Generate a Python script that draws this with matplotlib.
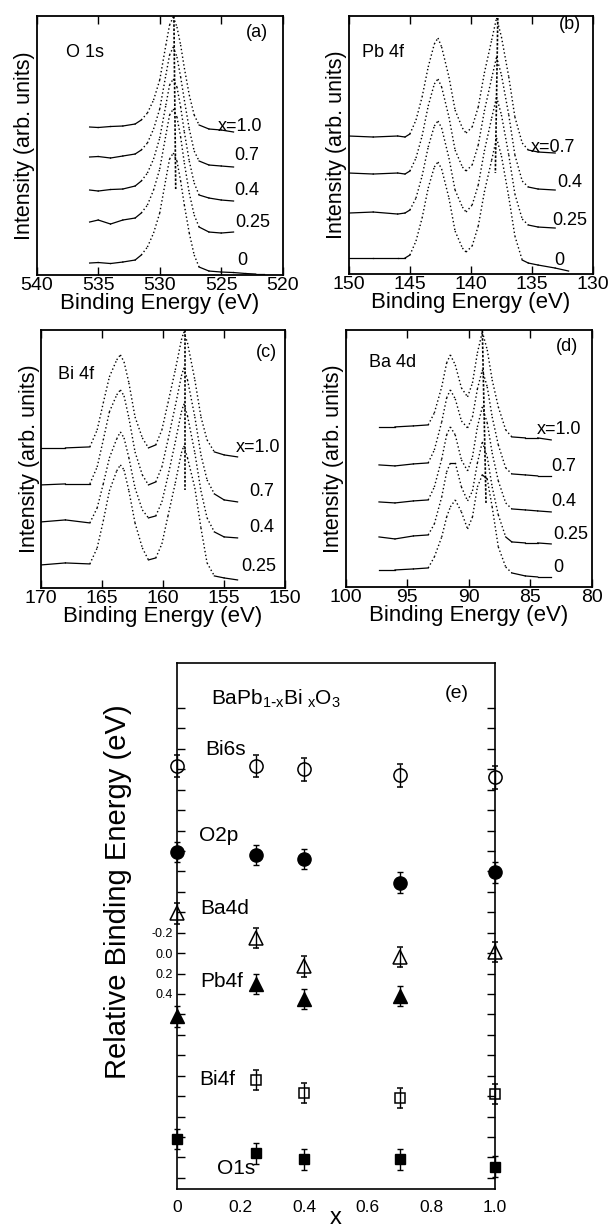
import numpy as np
import matplotlib
matplotlib.use("Agg")
import matplotlib.pyplot as plt
from matplotlib.ticker import FixedLocator, FuncFormatter

plt.rcParams.update({"font.family": ["Liberation Sans", "DejaVu Sans"],
                     "mathtext.default": "regular",
                     "axes.unicode_minus": False})

# ---------------- (a) O 1s spectra (arb. units) ----------------
o1s_E = [535.7, 535, 534, 533, 532, 531.5, 531, 530.5, 530, 529.5, 529.2,
         528.9, 528.6, 528.3, 528, 527.6, 527.2, 526.8, 526, 525, 524]
o1s_E0 = o1s_E + [523, 522.2, 521.5]
o1s_x10 = [148, 147.5, 148.5, 149, 151, 155, 162, 175, 195, 230, 250, 258, 248, 230, 207, 180, 160, 150, 146, 145, 143]
o1s_x07 = [118, 118.5, 117, 119, 121, 125, 132, 146, 166, 200, 220, 228, 218, 198, 175, 146, 124, 114, 110, 109, 108]
o1s_x04 = [85, 84, 85.5, 86, 89, 94, 102, 116, 137, 170, 190, 196, 188, 168, 143, 114, 92, 80, 77, 75, 74]
o1s_x025 = [53, 55, 51, 55, 57, 62, 70, 85, 106, 140, 160, 166, 158, 138, 112, 82, 60, 48, 43, 42, 43]
o1s_x0 = [12, 12.5, 11.5, 13, 15, 20, 28, 42, 62, 96, 116, 122, 114, 94, 70, 42, 20, 8, 4, 3, 2.5, 1.5, 1, 1]

# ---------------- (b) Pb 4f ----------------
pb_E = [150, 148, 146, 145.4, 145, 144.5, 144, 143.5, 143, 142.7, 142.4, 141.8, 141.3, 140.7,
        140.4, 139.9, 139.4, 138.9, 138.3, 137.9, 137.5, 136.9, 136.4, 135.8, 135.3, 134.5, 133.1]
pb_E0 = pb_E + [132.0]
pb_x07 = [138, 137, 138, 137, 140, 154, 177, 207, 230, 236, 227, 197, 164, 146, 141, 147, 167, 201, 234, 256, 237, 197, 157, 131, 124, 122, 121]
pb_x04 = [101, 100, 101, 100, 103, 116, 138, 168, 190, 195, 187, 157, 124, 107, 103, 109, 129, 163, 196, 217, 199, 159, 119, 93, 87, 85, 84]
pb_x025 = [61, 62, 60, 61, 64, 76, 98, 127, 148, 153, 146, 116, 84, 67, 62, 69, 89, 123, 156, 177, 159, 119, 80, 55, 49, 47, 46]
pb_x0 = [16, 16, 16, 16, 19, 33, 56, 86, 107, 112, 105, 76, 43, 26, 22, 28, 48, 82, 114, 136, 118, 77, 38, 14, 11, 9, 6, 3]

# ---------------- (c) Bi 4f ----------------
bi_E = [170, 168, 166, 165.4, 164.9, 164.4, 163.8, 163.5, 163.2, 162.8, 162.3, 161.7, 161.2,
        160.6, 160.1, 159.6, 159.0, 158.5, 158.3, 158.0, 157.4, 156.9, 156.4, 155.8, 155.0, 153.9]
bi_x10 = [140, 140, 141, 158, 185, 211, 228, 233, 226, 205, 171, 150, 140, 143, 158, 185, 218, 248, 256, 245, 208, 171, 148, 136, 133, 131]
bi_x07 = [103, 104, 104, 121, 148, 176, 193, 198, 192, 170, 136, 113, 103, 106, 121, 148, 182, 212, 220, 208, 171, 133, 108, 94, 88, 86]
bi_x04 = [66, 68, 65, 80, 104, 130, 149, 156, 150, 130, 100, 78, 70, 72, 86, 112, 146, 176, 184, 172, 135, 97, 70, 56, 51, 50]
bi_x025 = [23, 25, 24, 40, 67, 97, 117, 123, 118, 97, 65, 40, 28, 30, 44, 72, 105, 135, 142, 130, 100, 60, 25, 12, 10, 8]

# ---------------- (d) Ba 4d ----------------
ba_E = [97.3, 96, 94.5, 93.3, 92.8, 92.2, 91.8, 91.5, 91.1, 90.6, 90.1, 89.7, 89.3, 88.9,
        88.5, 88.1, 87.6, 87.0, 86.5, 85.4, 84.4, 83.3]
ba_x10 = [160, 160, 161, 162, 174, 200, 224, 232, 222, 199, 190, 204, 234, 255, 237, 207, 180, 157, 150, 149, 149, 147]
ba_x07 = [122, 121, 123, 124, 137, 165, 189, 197, 188, 166, 159, 170, 198, 217, 200, 170, 142, 119, 113, 112, 111, 111]
ba_x04 = [85, 84, 86, 87, 100, 128, 152, 160, 152, 127, 116, 130, 160, 180, 164, 134, 106, 84, 78, 77, 76, 75]
ba_x025 = [50, 48, 51, 52, 63, 90, 115, 124, 124, 100, 86, 96, 124, 145, 130, 100, 72, 50, 45, 44, 44, 43]
ba_x0 = [17, 17, 18, 19, 30, 50, 70, 80, 87, 75, 58, 70, 100, 112, 108, 80, 40, 20, 14, 11, 10, 10]

# peak guide lines: energy (top, bottom), intensity (top, bottom)
guide_E = [(528.85, 528.7), (137.8, 138.0), (158.2, 158.2), (88.9, 88.6)]
guide_I = [(259, 86), (256, 101), (258, 98), (257, 84)]

# ---------------- (e) relative binding energies ----------------
x_all = [0, 0.25, 0.4, 0.7, 1.0]
bi6s = [-1.83, -1.83, -1.80, -1.74, -1.72]
o2p = [-0.99, -0.96, -0.92, -0.69, -0.79]
ba4d = [-0.39, -0.15, 0.13, 0.04, -0.01]
x_pb = [0, 0.25, 0.4, 0.7]
pb4f = [0.62, 0.30, 0.45, 0.42]
x_bi = [0.25, 0.4, 0.7, 1.0]
bi4f = [1.24, 1.37, 1.42, 1.38]
o1s = [1.82, 1.96, 2.02, 2.02, 2.09]
err_bi6s = 0.11
err_other = 0.10


def draw_spectrum(ax, E, I):
    # steep parts look like loose dots in the scan, flat parts like a solid line
    E = np.asarray(E, float)
    I = np.asarray(I, float)
    for i in range(len(E) - 1):
        slope = abs((I[i + 1] - I[i]) / (E[i + 1] - E[i]))
        if slope > 10:
            ax.plot(E[i:i + 2], I[i:i + 2], color="k", lw=1.0, ls=(0, (1, 1.8)))
        else:
            ax.plot(E[i:i + 2], I[i:i + 2], color="k", lw=0.9)


def spec_axes(rect, xlim, xticks, ylim_top):
    ax = fig.add_axes(rect)
    ax.set_xlim(*xlim)
    ax.set_ylim(0, ylim_top)
    ax.set_xticks(xticks)
    ax.set_yticks([])
    ax.tick_params(axis="x", direction="in", top=True, length=6, width=1,
                   labelsize=14, pad=1.5)
    for s in ax.spines.values():
        s.set_linewidth(1.3)
    ax.set_xlabel("Binding Energy (eV)", fontsize=16, labelpad=-1)
    ax.set_ylabel("Intensity (arb. units)", fontsize=15.5, labelpad=1)
    return ax


fig = plt.figure(figsize=(6.12, 12.3), dpi=100)

panels = [
    dict(rect=[0.060, 0.7764, 0.402, 0.2106], xlim=(540, 520), ticks=[540, 535, 530, 525, 520], top=259,
         curves=[(o1s_E, o1s_x10), (o1s_E, o1s_x07), (o1s_E, o1s_x04), (o1s_E, o1s_x025), (o1s_E0, o1s_x0)],
         labels=[("x=1.0", 523.5, 149), ("0.7", 522.9, 120), ("0.4", 522.9, 85), ("0.25", 522.4, 53), ("0", 523.3, 15)],
         name=("O 1s", 537.6, 222), tag=("(a)", 522.1, 242)),
    dict(rect=[0.570, 0.7772, 0.399, 0.2098], xlim=(150, 130), ticks=[150, 145, 140, 135, 130], top=258,
         curves=[(pb_E, pb_x07), (pb_E, pb_x04), (pb_E, pb_x025), (pb_E0, pb_x0)],
         labels=[("x=0.7", 133.3, 127), ("0.4", 131.9, 92), ("0.25", 131.9, 54), ("0", 132.8, 14)],
         name=("Pb 4f", 148.9, 221), tag=("(b)", 131.9, 249)),
    dict(rect=[0.067, 0.5220, 0.399, 0.2098], xlim=(170, 150), ticks=[170, 165, 160, 155, 150], top=258,
         curves=[(bi_E, bi_x10), (bi_E, bi_x07), (bi_E, bi_x04), (bi_E, bi_x025)],
         labels=[("x=1.0", 152.2, 140), ("0.7", 151.9, 96), ("0.4", 151.9, 60), ("0.25", 152.2, 21)],
         name=("Bi 4f", 168.6, 213), tag=("(c)", 151.5, 235)),
    dict(rect=[0.565, 0.5228, 0.402, 0.2090], xlim=(100, 80), ticks=[100, 95, 90, 85, 80], top=257,
         curves=[(ba_E, ba_x10), (ba_E, ba_x07), (ba_E, ba_x04), (ba_E, ba_x025), (ba_E, ba_x0)],
         labels=[("x=1.0", 82.66, 157), ("0.7", 82.25, 120), ("0.4", 82.25, 85), ("0.25", 81.7, 52), ("0", 82.7, 19)],
         name=("Ba 4d", 98.1, 224), tag=("(d)", 82.0, 240)),
]

for k, p in enumerate(panels):
    ax = spec_axes(p["rect"], p["xlim"], p["ticks"], p["top"])
    for E, I in p["curves"]:
        draw_spectrum(ax, E, I)
    ax.plot(guide_E[k], guide_I[k], color="k", lw=1.2, ls=(0, (1.5, 1)))
    for txt, ex, iy in p["labels"]:
        ax.text(ex, iy, txt, fontsize=13, ha="center", va="center")
    ax.text(p["name"][1], p["name"][2], p["name"][0], fontsize=13, ha="left", va="center")
    ax.text(p["tag"][1], p["tag"][2], p["tag"][0], fontsize=13, ha="center", va="center")

# ---------------- panel (e) ----------------
ax = fig.add_axes([0.289, 0.0333, 0.520, 0.4276])
ax.set_xlim(0, 1.0)
ax.set_ylim(2.31, -2.84)

common = dict(color="k", capsize=2.5, elinewidth=1, capthick=1, ls="none", clip_on=False)
ax.errorbar(x_all, bi6s, yerr=err_bi6s, marker="o", ms=9.5, mfc="none", mec="k", mew=1.1, **common)
ax.errorbar(x_all, o2p, yerr=err_other, marker="o", ms=9.5, mfc="k", mec="k", **common)
ax.errorbar(x_all, ba4d, yerr=err_other, marker="^", ms=9.5, mfc="none", mec="k", mew=1.1, **common)
ax.errorbar(x_pb, pb4f, yerr=err_other, marker="^", ms=9.5, mfc="k", mec="k", **common)
ax.errorbar(x_bi, bi4f, yerr=err_other, marker="s", ms=6.5, mfc="none", mec="k", mew=1.1, **common)
ax.errorbar(x_all, o1s, yerr=err_other, marker="s", ms=7.5, mfc="k", mec="k", **common)

for txt, tx, ty in [("Bi6s", 0.154, -1.99), ("O2p", 0.132, -1.15), ("Ba4d", 0.151, -0.44),
                    ("Pb4f", 0.142, 0.28), ("Bi4f", 0.126, 1.24), ("O1s", 0.186, 2.11)]:
    ax.text(tx, ty, txt, fontsize=15, ha="center", va="center")
ax.text(0.312, -2.49, r"BaPb$_{1\text{-}x}$Bi$_{\ x}$O$_{3}$", fontsize=15, ha="center", va="center")
ax.text(0.88, -2.54, "(e)", fontsize=14, ha="center", va="center")

ax.xaxis.set_major_locator(FixedLocator([0, 0.2, 0.4, 0.6, 0.8, 1.0]))
ax.xaxis.set_major_formatter(FuncFormatter(lambda v, pos: "0" if abs(v) < 1e-9 else f"{v:.1f}"))
ax.tick_params(axis="x", length=0, labelsize=12.5, pad=8)
ax.yaxis.set_major_locator(FixedLocator(np.round(np.arange(-2.4, 2.21, 0.2), 1)))
ax.yaxis.set_major_formatter(FuncFormatter(
    lambda v, pos: f"{abs(v) if abs(v) < 1e-9 else v:.1f}" if -0.25 < v < 0.45 else ""))
ax.tick_params(axis="y", direction="in", right=True, length=6, width=1, labelsize=9, pad=3)
for s in ax.spines.values():
    s.set_linewidth(1.2)
ax.set_xlabel("x", fontsize=17, labelpad=-6)
fig.text(118 / 612, 1 - 892 / 1230, "Relative Binding Energy (eV)", rotation=90,
         fontsize=21, ha="center", va="center")

fig.savefig("out.png", dpi=100)
